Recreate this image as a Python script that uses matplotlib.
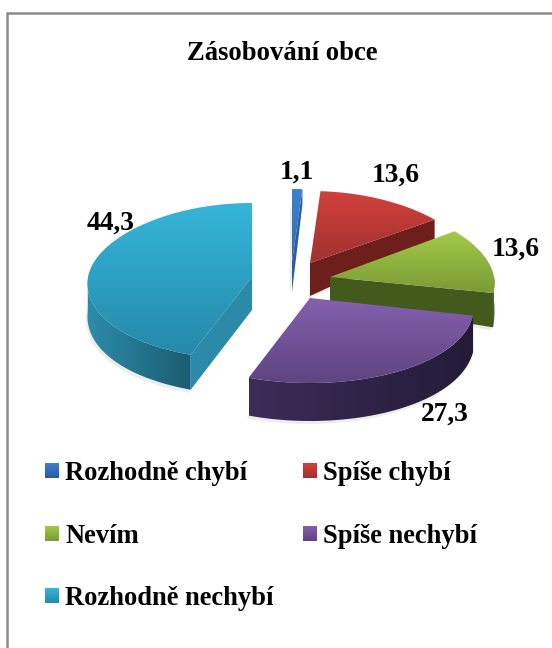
import numpy as np
import matplotlib
matplotlib.use('Agg')
import matplotlib.pyplot as plt
from matplotlib.colors import LinearSegmentedColormap
from matplotlib.patches import Polygon

# Data
categories = ['Rozhodně chybí', 'Spíše chybí', 'Nevím', 'Spíše nechybí', 'Rozhodně nechybí']
values = [1.1, 13.6, 13.6, 27.3, 44.3]
value_labels = ['1,1', '13,6', '13,6', '27,3', '44,3']

# Colours per slice: top surface (light, dark), rim (left, right), cut face
top_colors = [('#3d82d0', '#2f6cb0'), ('#d2403c', '#a03230'), ('#a2cb48', '#7b9b36'),
              ('#8560ae', '#5e4480'), ('#35b6da', '#2589aa')]
rim_colors = [('#2a5a9c', '#2a5a9c'), ('#6e1f1c', '#6e1f1c'), ('#3f561b', '#4a6420'),
              ('#3c2c58', '#241b38'), ('#2b8dab', '#1b5c70')]
face_colors = ['#2a5fa4', '#6e1f1c', '#425a1c', '#2c2040', '#2a8aa8']
legend_bottom = ['#2a5a9c', '#a03230', '#7b9b36', '#5e4480', '#2589aa']

# Exploded slice layout in pixels: apex x, apex y, up radius, down radius, depth, depth slope
apex_x = [292, 310, 330, 310, 252]
apex_y = [262, 263, 277, 298, 277]
radius_up = [73, 72, 76, 81, 74]
radius_down = [80, 80, 77, 85, 83]
depth_base = [30, 33, 24, 36, 33]
depth_slope = [15, 23, 50, 2, 2]
RADIUS_X = 164
PERSPECTIVE = 0.08

label_x = [297, 396, 516, 445, 111]
label_y = [179, 182, 256, 421, 230]
legend_x = [45, 303, 45, 303, 45]
legend_y = [480, 480, 543, 543, 605]

W, H = 552, 648
fig = plt.figure(figsize=(W / 100, H / 100), dpi=100)
ax = fig.add_axes([0, 0, 1, 1])
ax.set_xlim(0, W)
ax.set_ylim(H, 0)
ax.set_axis_off()

serif = dict(family='Liberation Serif', weight='bold', color='black')


def project(i, ang):
    # clockwise angle from the top, squashed ellipse with a little perspective
    xx = np.sin(ang)
    yy = -np.cos(ang)
    r = np.where(yy < 0, radius_up[i], radius_down[i])
    return apex_x[i] + RADIUS_X * xx * (1 + PERSPECTIVE * yy), apex_y[i] + r * yy, yy


def gradient_patch(pts, c1, c2, horizontal=False, zorder=2):
    cmap = LinearSegmentedColormap.from_list('g', [c1, c2])
    patch = Polygon(pts, closed=True, facecolor='none', edgecolor='none', zorder=zorder)
    ax.add_patch(patch)
    x0, x1 = pts[:, 0].min(), pts[:, 0].max()
    y0, y1 = pts[:, 1].min(), pts[:, 1].max()
    grad = np.linspace(0, 1, 128)
    grad = grad.reshape(1, -1) if horizontal else grad.reshape(-1, 1)
    im = ax.imshow(grad, cmap=cmap, extent=[x0, x1, y1, y0], aspect='auto', zorder=zorder,
                   interpolation='bilinear')
    im.set_clip_path(patch)
    ax.set_xlim(0, W)
    ax.set_ylim(H, 0)


starts = np.cumsum([0] + values[:-1]) / sum(values) * 2 * np.pi
ends = np.cumsum(values) / sum(values) * 2 * np.pi

for i in range(len(values)):
    z = 2 + i
    ang = np.linspace(starts[i], ends[i], 120)
    xs, ys, yy = project(i, ang)
    dep = np.maximum(depth_base[i] + depth_slope[i] * yy, 3)
    apex = np.array([[apex_x[i], apex_y[i]]])
    apex_low = np.array([[apex_x[i], apex_y[i] + depth_base[i]]])

    # soft shadow under the slice
    outline = np.vstack([apex_low, np.column_stack([xs, ys + dep])])
    ax.add_patch(Polygon(outline + [-2, 3], closed=True, facecolor='#000000', alpha=0.07,
                         edgecolor='none', zorder=z))

    # rim, only the part that faces the viewer
    front = yy > 0
    if front.any():
        rim = np.vstack([np.column_stack([xs[front], ys[front]]),
                         np.column_stack([xs[front], ys[front] + dep[front]])[::-1]])
        gradient_patch(rim, rim_colors[i][0], rim_colors[i][1], horizontal=True, zorder=z)

    # cut faces that turn towards the viewer
    for k, visible in ((0, np.sin(starts[i]) < -0.01), (-1, np.sin(ends[i]) > 0.01)):
        if visible:
            face = np.vstack([apex, [[xs[k], ys[k]]], [[xs[k], ys[k] + dep[k]]], apex_low])
            ax.add_patch(Polygon(face, closed=True, facecolor=face_colors[i], edgecolor='none', zorder=z))

    # top surface
    top = np.vstack([apex, np.column_stack([xs, ys])])
    gradient_patch(top, top_colors[i][0], top_colors[i][1], zorder=z)

for i in range(len(values)):
    ax.text(label_x[i], label_y[i], value_labels[i], fontsize=19.8, ha='center', va='baseline',
            zorder=10, **serif)
    ax.text(legend_x[i] + 20, legend_y[i], categories[i], fontsize=19.1, ha='left', va='baseline',
            zorder=10, **serif)
    pts = np.array([[legend_x[i], legend_y[i] - 17], [legend_x[i] + 14, legend_y[i] - 17],
                    [legend_x[i] + 14, legend_y[i] - 2], [legend_x[i], legend_y[i] - 2]], dtype=float)
    gradient_patch(pts, top_colors[i][0], legend_bottom[i], zorder=10)

ax.text(282, 60, 'Zásobování obce', fontsize=19.2, ha='center', va='baseline', zorder=10, **serif)

# chart frame
ax.plot([7.3, 7.3, W], [H, 13, 13], color='#8c8c8c', lw=1.8, solid_joinstyle='miter', zorder=1)

fig.savefig('out.png', dpi=100)
